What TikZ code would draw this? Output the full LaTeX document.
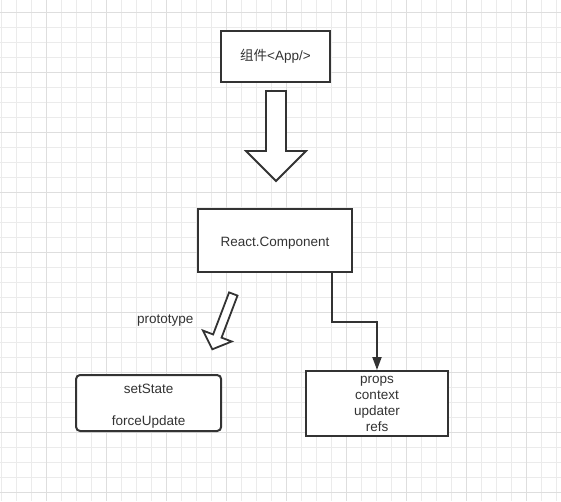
\documentclass[tikz,border=0pt]{standalone}
\usepackage{fontspec}
\setmainfont{Liberation Sans}
\newfontfamily\cjkfont{Noto Sans CJK SC}
\usetikzlibrary{arrows.meta}
\definecolor{ink}{HTML}{333333}
\definecolor{gridminor}{HTML}{EBEBEB}
\definecolor{gridmajor}{HTML}{DEDEDE}
\tikzset{
  boxstyle/.style={draw=ink, line width=2pt, fill=white, text=ink, font=\fontsize{13.5}{16}\selectfont, align=center, inner sep=0pt},
  labelstyle/.style={text=ink, font=\fontsize{13.5}{16}\selectfont, inner sep=0pt},
  hollowarrow/.style={draw=ink, line width=1.8pt, fill=white, line join=miter},
  connector/.style={draw=ink, line width=2pt, -{Triangle[length=13pt,width=9pt]}},
}
\begin{document}
\begin{tikzpicture}[x=1pt,y=-1pt]
\useasboundingbox (0,0) rectangle (561,501);
\fill[white] (0,0) rectangle (561,501);
% grid
\foreach \x in {1,16,...,556} \draw[gridminor, line width=1pt] (\x,0) -- (\x,501);
\foreach \y in {12,27,...,500} \draw[gridminor, line width=1pt] (0,\y) -- (561,\y);
\foreach \x in {46,106,...,556} \draw[gridmajor, line width=1pt] (\x,0) -- (\x,501);
\foreach \y in {12,72,...,500} \draw[gridmajor, line width=1pt] (0,\y) -- (561,\y);

% top box
\node[boxstyle, minimum width=109pt, minimum height=51pt, text height=8.4pt, text depth=0pt] (app) at (275.5,56.5) {{\cjkfont 组件}<App/>};

% big hollow arrow
\draw[hollowarrow] (266,91) -- (286,91) -- (286,151) -- (306,151) -- (276,181) -- (246,151) -- (266,151) -- cycle;

% React.Component box
\node[boxstyle, minimum width=154pt, minimum height=63pt, text height=12.4pt, text depth=0pt] (react) at (275,240.5) {React.Component};

% small hollow arrow (prototype)
\draw[hollowarrow] (229.1,292.4) -- (237.5,295.6) -- (221.55,337.63) -- (231.69,341.48) -- (212.3,349.3) -- (202.99,330.58) -- (213.13,334.43) -- cycle;
\node[labelstyle, anchor=base] (proto) at (165.3,323) {prototype};

% setState box
\node[boxstyle, rounded corners=4pt, minimum width=145pt, minimum height=56pt] (methods) at (148.6,403) {\rule{0pt}{16pt}setState\\[16pt]forceUpdate};

% props box
\node[boxstyle, minimum width=142pt, minimum height=65pt] (fields) at (377,403.5) {props\\context\\updater\\refs};

% connector
\coordinate (cstart) at ([xshift=-21pt]react.south east);
\draw[connector] (cstart) -- ++(0,49) -| (fields.north);
\end{tikzpicture}
\end{document}
